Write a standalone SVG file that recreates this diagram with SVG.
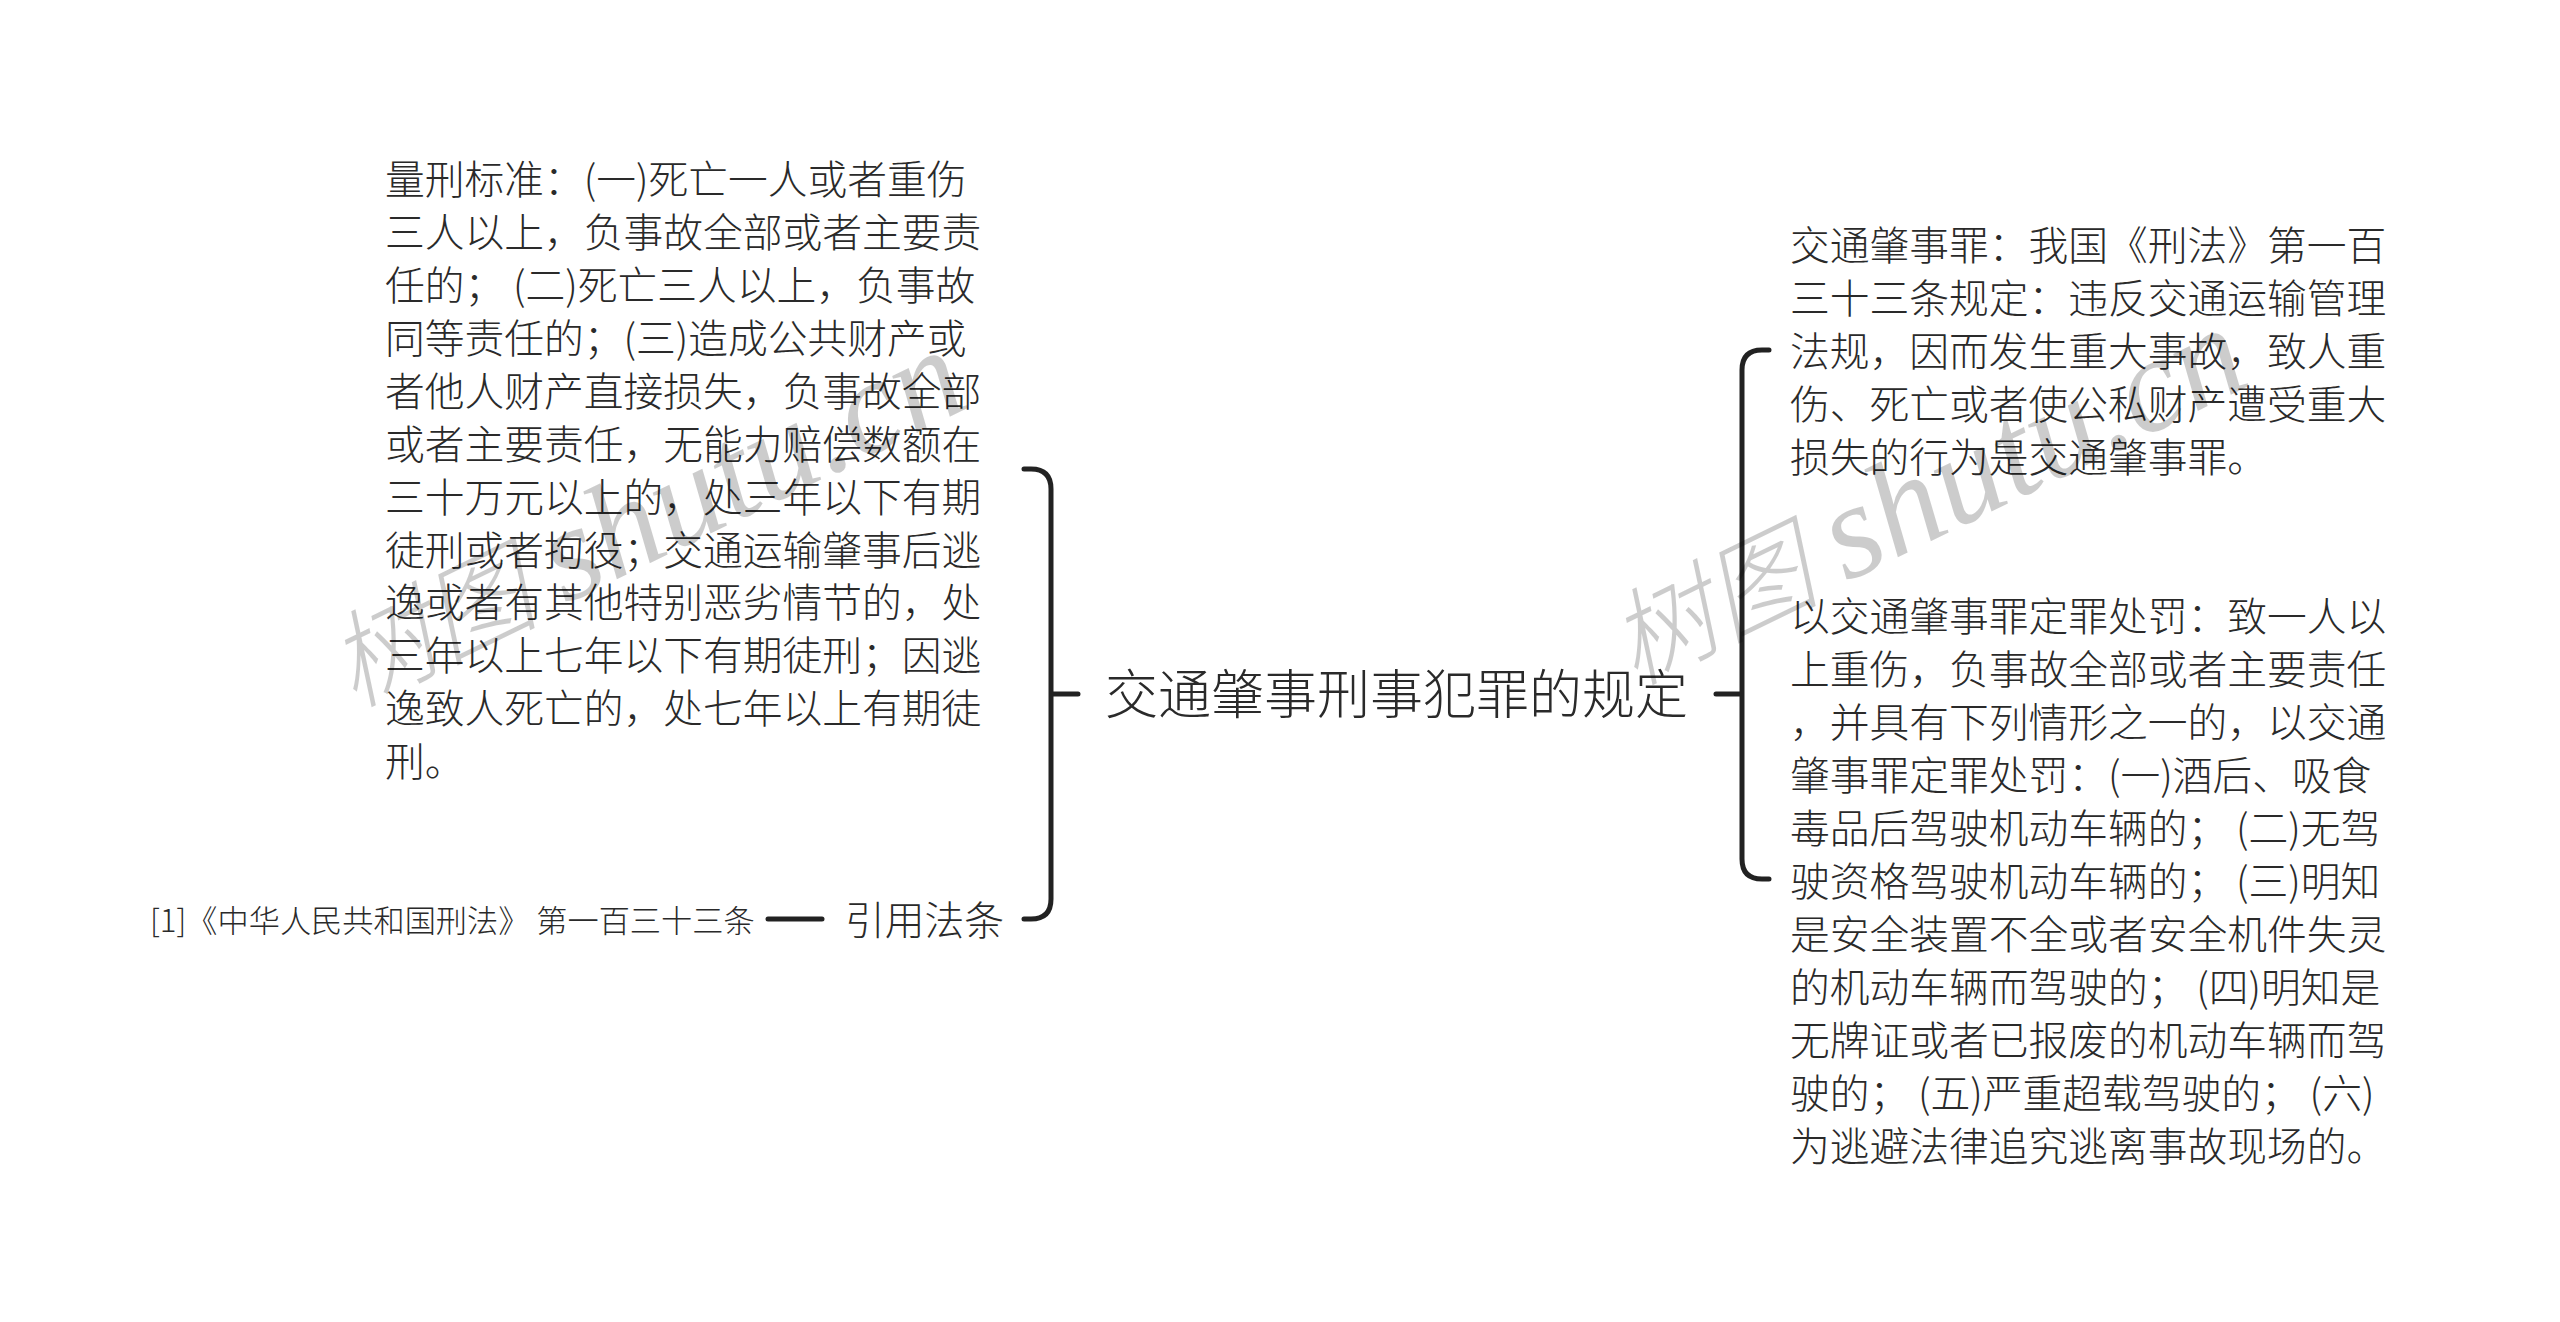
<svg xmlns="http://www.w3.org/2000/svg" width="2560" height="1322" viewBox="0 0 2560 1322">
<style>
text{font-family:"Noto Sans CJK SC","Liberation Sans",sans-serif;fill:#2a2a2a;font-size:39.75px;font-weight:300;}
.root{font-size:53px;}
.cite{font-size:31.2px;}
.wm{font-family:"Liberation Serif","Noto Sans CJK SC",serif;font-style:italic;font-size:105px;fill:#000;fill-opacity:.2;}
.wm tspan{font-size:135px;}
.c{fill:none;stroke:#222;stroke-width:5;stroke-linecap:round;}
</style>
<rect width="2560" height="1322" fill="#fff"/>
<g id="connectors">
<path class="c" d="M1024 469H1031Q1051 469 1051 489V899Q1051 919 1031 919H1024M1051 694H1078"/>
<path class="c" d="M1769 350H1762Q1742 350 1742 370V859Q1742 879 1762 879H1769M1742 694H1716"/>
<path class="c" d="M768 919H822"/>
</g>
<g id="root"><text class="root" x="1105" y="714">交通肇事刑事犯罪的规定</text></g>
<g id="node-left">
<text x="385" y="194">量刑标准：(一)死亡一人或者重伤</text>
<text x="385" y="247">三人以上，负事故全部或者主要责</text>
<text x="385" y="300">任的； (二)死亡三人以上，负事故</text>
<text x="385" y="353">同等责任的；(三)造成公共财产或</text>
<text x="385" y="405.5">者他人财产直接损失，负事故全部</text>
<text x="385" y="458.5">或者主要责任，无能力赔偿数额在</text>
<text x="385" y="511.5">三十万元以上的，处三年以下有期</text>
<text x="385" y="564.5">徒刑或者拘役；交通运输肇事后逃</text>
<text x="385" y="617">逸或者有其他特别恶劣情节的，处</text>
<text x="385" y="670">三年以上七年以下有期徒刑；因逃</text>
<text x="385" y="723">逸致人死亡的，处七年以上有期徒</text>
<text x="385" y="776">刑。</text>
</g>
<g id="node-law"><text x="845" y="935">引用法条</text></g>
<g id="node-cite"><text class="cite" x="150" y="932">[1]《中华人民共和国刑法》 第一百三十三条</text></g>
<g id="node-right1">
<text x="1790" y="260">交通肇事罪：我国《刑法》第一百</text>
<text x="1790" y="313">三十三条规定：违反交通运输管理</text>
<text x="1790" y="366">法规，因而发生重大事故，致人重</text>
<text x="1790" y="419">伤、死亡或者使公私财产遭受重大</text>
<text x="1790" y="472">损失的行为是交通肇事罪。</text>
</g>
<g id="node-right2">
<text x="1790" y="631">以交通肇事罪定罪处罚：致一人以</text>
<text x="1790" y="684">上重伤，负事故全部或者主要责任</text>
<text x="1790" y="737">，并具有下列情形之一的，以交通</text>
<text x="1790" y="790">肇事罪定罪处罚：(一)酒后、吸食</text>
<text x="1790" y="843">毒品后驾驶机动车辆的； (二)无驾</text>
<text x="1790" y="896">驶资格驾驶机动车辆的； (三)明知</text>
<text x="1790" y="949">是安全装置不全或者安全机件失灵</text>
<text x="1790" y="1002">的机动车辆而驾驶的； (四)明知是</text>
<text x="1790" y="1055">无牌证或者已报废的机动车辆而驾</text>
<text x="1790" y="1108">驶的； (五)严重超载驾驶的； (六)</text>
<text x="1790" y="1161">为逃避法律追究逃离事故现场的。</text>
</g>
<g id="watermarks">
<text class="wm" transform="translate(353 708) rotate(-26)">树图 <tspan>shutu.cn</tspan></text>
<text class="wm" transform="translate(1634 686) rotate(-26)">树图 <tspan>shutu.cn</tspan></text>
</g>
</svg>
